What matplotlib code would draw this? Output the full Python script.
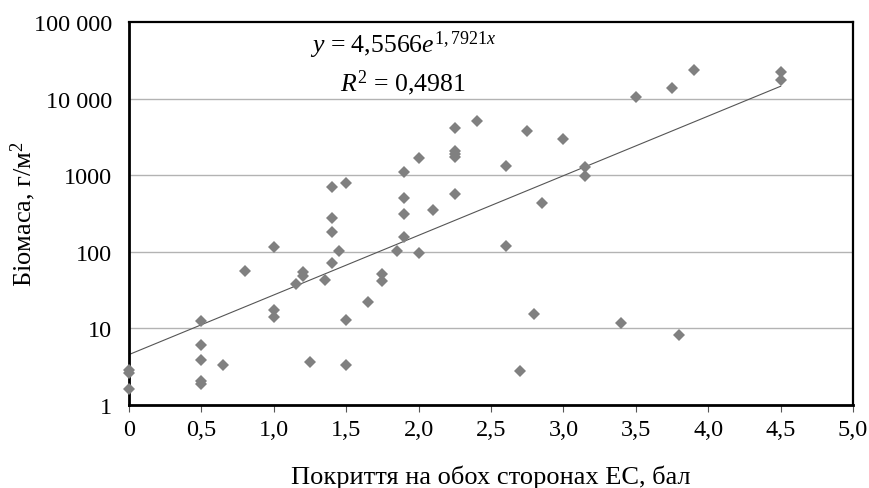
import numpy as np
import matplotlib
matplotlib.use('Agg')
import matplotlib.pyplot as plt

# Покриття (бал) та біомаса (г/м2)
pokryttia = [0, 0, 0,
             0.5, 0.5, 0.5, 0.5, 0.5,
             0.65, 0.8, 1.0, 1.0, 1.0, 1.15, 1.2, 1.2, 1.25, 1.35,
             1.4, 1.4, 1.4, 1.4, 1.45, 1.5, 1.5, 1.5, 1.65, 1.75, 1.75, 1.85,
             1.9, 1.9, 1.9, 1.9, 2.0, 2.0, 2.1,
             2.25, 2.25, 2.25, 2.25, 2.25, 2.4, 2.6, 2.6, 2.7, 2.75, 2.8, 2.85,
             3.0, 3.15, 3.15, 3.4, 3.5, 3.75, 3.8, 3.9, 4.5, 4.5]
biomasa = [2.9, 2.6, 1.6,
           12.4, 6.1, 3.9, 2.05, 1.9,
           3.3, 57, 117, 17.4, 14.2, 38, 55, 49, 3.6, 43,
           695, 276, 181, 71, 103, 790, 12.8, 3.3, 22, 52, 42, 103,
           1090, 500, 311, 156, 1690, 96, 351,
           4170, 2090, 1890, 1710, 563, 5060, 1320, 120, 2.8, 3780, 15.3, 433,
           2970, 1270, 980, 11.8, 10400, 13750, 8.1, 23600, 22000, 17500]

a, b = 4.5566, 1.7921
y_ticks = [1, 10, 100, 1000, 10000, 100000]
y_labels = ['1', '10', '100', '1000', '10 000', '100 000']
x_ticks = [0, 0.5, 1.0, 1.5, 2.0, 2.5, 3.0, 3.5, 4.0, 4.5, 5.0]
x_labels = ['0', '0,5', '1,0', '1,5', '2,0', '2,5', '3,0', '3,5', '4,0', '4,5', '5,0']

plt.rcParams['font.family'] = ['Liberation Serif', 'DejaVu Serif']
plt.rcParams['mathtext.fontset'] = 'custom'
plt.rcParams['mathtext.rm'] = 'Liberation Serif'
plt.rcParams['mathtext.it'] = 'Liberation Serif:italic'

fig = plt.figure(figsize=(8.7, 4.89), dpi=100)
ax = fig.add_axes([0.1483, 0.1697, 0.8322, 0.7833])

ax.set_yscale('log')
ax.set_xlim(0, 5.0)
ax.set_ylim(1, 100000)

for yy in y_ticks[1:-1]:
    ax.axhline(yy, color='#b3b3b3', lw=1.0, zorder=1)

xf = np.linspace(0, 4.5, 100)
ax.plot(xf, a * np.exp(b * xf), color='#555555', lw=0.8, zorder=2)

ax.plot(pokryttia, biomasa, linestyle='none', marker='D', markersize=6,
        color='#808080', markeredgewidth=0, zorder=3, clip_on=False)

ax.set_yticks(y_ticks)
ax.set_yticklabels(y_labels)
ax.yaxis.set_minor_locator(matplotlib.ticker.NullLocator())
ax.set_xticks(x_ticks)
ax.set_xticklabels(x_labels)
ax.tick_params(axis='y', length=0, pad=12, labelsize=17.5)
ax.tick_params(axis='x', length=5, width=0.8, color='#555555', direction='out',
               pad=5, labelsize=17.5)

for s in ['left', 'bottom']:
    ax.spines[s].set_linewidth(2.0)
for s in ['top', 'right']:
    ax.spines[s].set_linewidth(1.6)

ax.set_xlabel('Покриття на обох сторонах ЕС, бал', fontsize=19, labelpad=18)
ax.set_ylabel('Біомаса, г/м$^2$', fontsize=19)
ax.yaxis.set_label_coords(-0.126, 0.5)

ax.text(1.89, 51600, r'$y$ = 4,5566$e^{1,7921x}$', fontsize=18.5,
        ha='center', va='center')
ax.text(1.89, 16500, r'$R^2$ = 0,4981', fontsize=18.5, ha='center', va='center')

fig.savefig('out.png', dpi=100)
